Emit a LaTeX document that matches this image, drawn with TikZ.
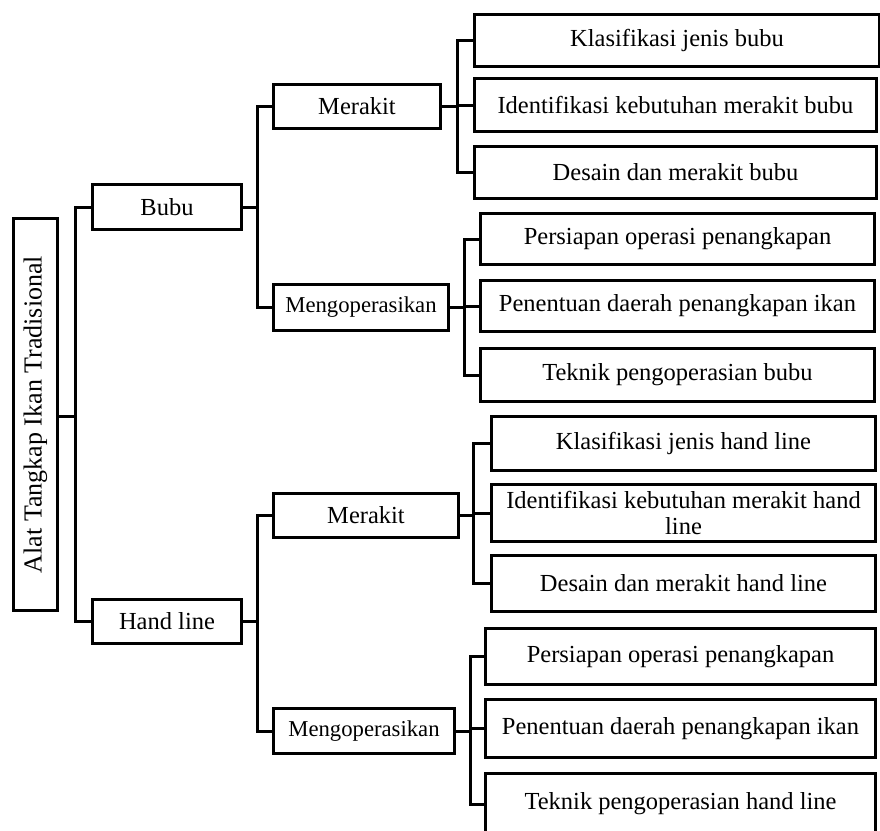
\documentclass[tikz,border=0pt]{standalone}
\usepackage{fontspec}
\setmainfont{Liberation Serif}
\usepackage{graphicx}
\begin{document}
\begin{tikzpicture}[x=1pt,y=-1pt,
  box/.style={draw, line width=3pt, inner sep=0pt, align=center, font=\fontsize{24.5}{26}\selectfont},
  smallbox/.style={box, font=\fontsize{22.7}{25}\selectfont},
  rootbox/.style={box, font=\fontsize{26}{28}\selectfont},
  conn/.style={line width=3pt}]
\useasboundingbox (0,0) rectangle (880,830);
\clip (0,0) rectangle (880,830);

% root and level 1
\node[rootbox, minimum width=44pt, minimum height=392pt] (root) at (35.5,414.5) {\rotatebox{90}{Alat Tangkap Ikan Tradisional}};
\node[box, minimum width=149pt, minimum height=45pt] (bubu) at (167,207) {Bubu};
\node[box, minimum width=149pt, minimum height=44pt] (hl) at (167,621.5) {Hand line};

% level 2
\node[box, minimum width=167pt, minimum height=44pt] (merA) at (357,106.5) {Merakit};
\node[smallbox, minimum width=175pt, minimum height=46pt] (mgA) at (361,307.5) {Mengoperasikan};
\node[box, minimum width=185pt, minimum height=44pt] (merB) at (366,515.5) {Merakit};
\node[smallbox, minimum width=181pt, minimum height=45pt] (mgB) at (364,731) {Mengoperasikan};

% leaves group A
\node[box, minimum width=405pt, minimum height=52pt] (kA) at (677,40.5) {Klasifikasi jenis bubu};
\node[box, minimum width=402pt, minimum height=53pt] (iA) at (675.5,105) {Identifikasi kebutuhan merakit bubu};
\node[box, minimum width=402pt, minimum height=52pt] (dA) at (675.5,172.5) {Desain dan merakit bubu};
% leaves group B
\node[box, minimum width=394pt, minimum height=51pt] (pB) at (677.5,239) {Persiapan operasi penangkapan};
\node[box, minimum width=394pt, minimum height=51pt] (eB) at (677.5,306) {Penentuan daerah penangkapan ikan};
\node[box, minimum width=394pt, minimum height=53pt] (tB) at (677.5,375) {Teknik pengoperasian bubu};
% leaves group C
\node[box, minimum width=384pt, minimum height=54pt] (kC) at (683.5,443.5) {Klasifikasi jenis hand line};
\node[box, minimum width=384pt, minimum height=57pt] (iC) at (683.5,513) {Identifikasi kebutuhan merakit hand\\line};
\node[box, minimum width=384pt, minimum height=56pt] (dC) at (683.5,583.5) {Desain dan merakit hand line};
% leaves group D
\node[box, minimum width=390pt, minimum height=56pt] (pD) at (680.5,656.5) {Persiapan operasi penangkapan};
\node[box, minimum width=390pt, minimum height=58pt] (eD) at (680.5,728.5) {Penentuan daerah penangkapan ikan};
\node[box, minimum width=390pt, minimum height=61pt] (tD) at (680.5,804) {Teknik pengoperasian hand line};

% junctions
\coordinate (j0) at (75,416);
\coordinate (j1) at (257,207);
\coordinate (j2) at (257,622);
\coordinate (jA) at (457,107);
\coordinate (jB) at (464,307);
\coordinate (jC) at (473,515);
\coordinate (jD) at (470,731);

% connectors
\draw[conn] (root.east |- j0) -- (j0);
\draw[conn] (bubu.west) -| (j0) |- (hl.west);

\draw[conn] (bubu.east) -- (bubu.east -| j1);
\draw[conn] (merA.west) -| (j1) |- (mgA.west);
\draw[conn] (hl.east) -- (hl.east -| j2);
\draw[conn] (merB.west) -| (j2) |- (mgB.west);

\draw[conn] (merA.east) -- (merA.east -| jA);
\draw[conn] (kA.west) -| (jA) |- (dA.west);
\draw[conn] (iA.west) -- (iA.west -| jA);

\draw[conn] (mgA.east) -- (mgA.east -| jB);
\draw[conn] (pB.west) -| (jB) |- (tB.west);
\draw[conn] (eB.west) -- (eB.west -| jB);

\draw[conn] (merB.east) -- (merB.east -| jC);
\draw[conn] (kC.west) -| (jC) |- (dC.west);
\draw[conn] (iC.west) -- (iC.west -| jC);

\draw[conn] (mgB.east) -- (mgB.east -| jD);
\draw[conn] (pD.west) -| (jD) |- (tD.west);
\draw[conn] (eD.west) -- (eD.west -| jD);
\end{tikzpicture}
\end{document}
